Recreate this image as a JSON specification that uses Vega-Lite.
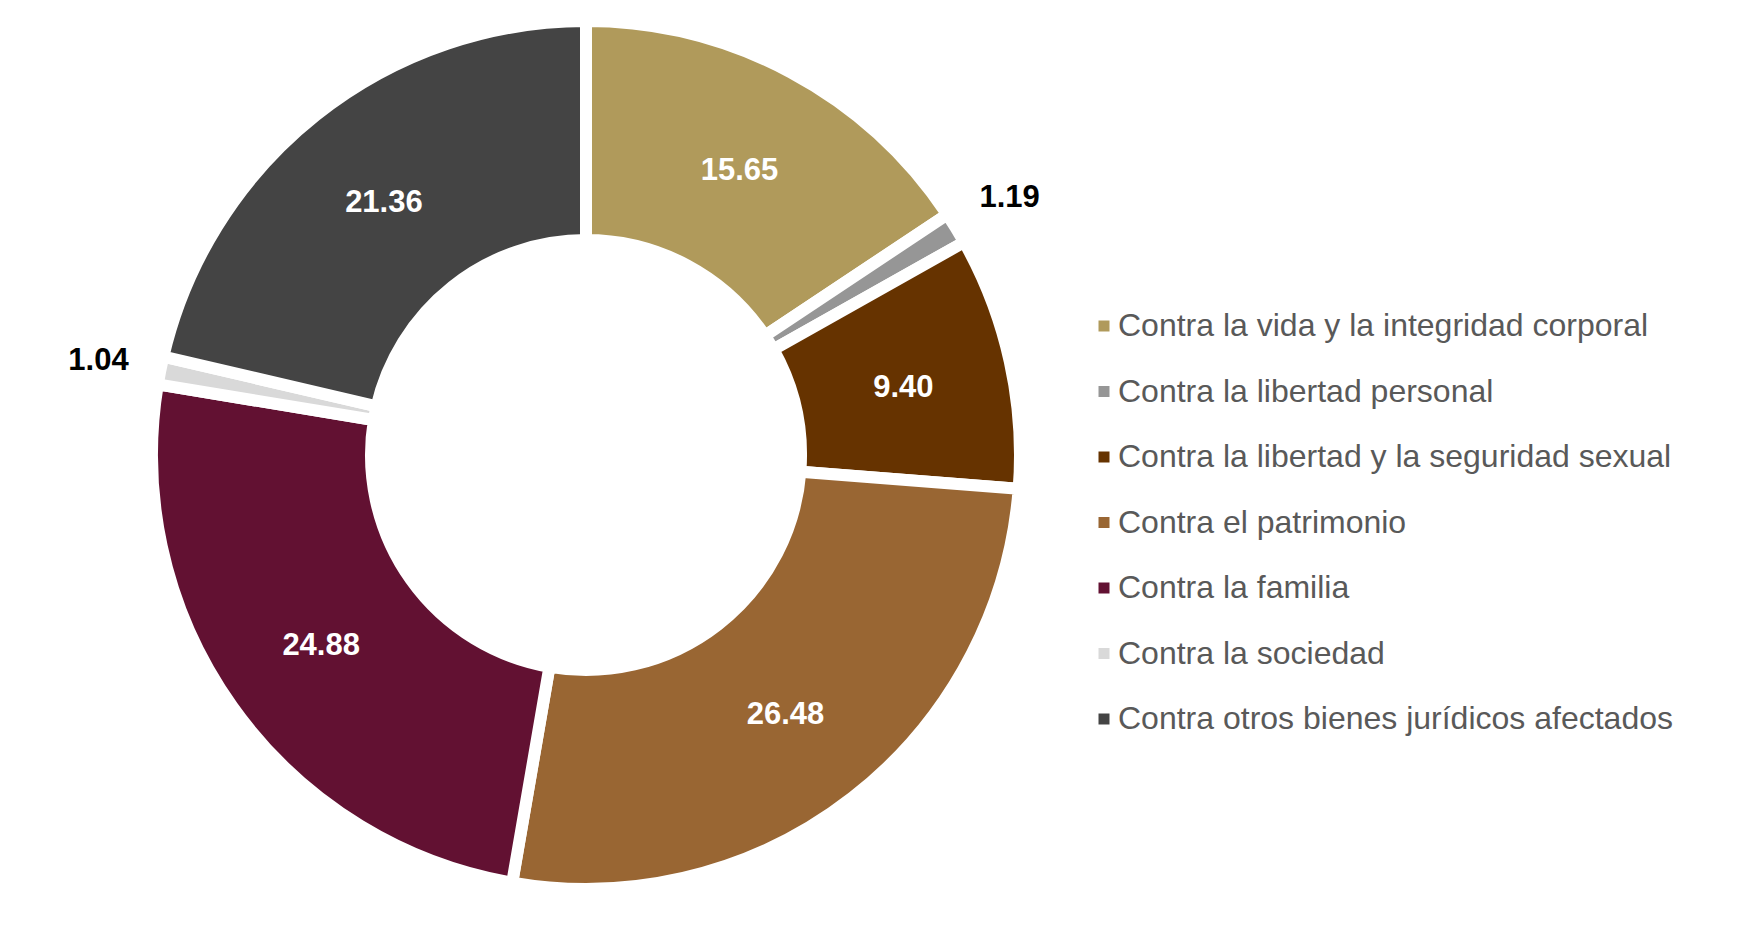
{
  "$schema": "https://vega.github.io/schema/vega-lite/v6.json",
  "width": 1152,
  "height": 890,
  "padding": {"left": 10, "top": 10, "right": 575, "bottom": 44},
  "autosize": {"type": "none"},
  "background": "white",
  "config": {"view": {"stroke": null}, "font": "Liberation Sans"},
  "data": {
    "values": [
      {"orden": 1, "categoria": "Contra la vida y la integridad corporal", "valor": 15.65},
      {"orden": 2, "categoria": "Contra la libertad personal", "valor": 1.19},
      {"orden": 3, "categoria": "Contra la libertad y la seguridad sexual", "valor": 9.40},
      {"orden": 4, "categoria": "Contra el patrimonio", "valor": 26.48},
      {"orden": 5, "categoria": "Contra la familia", "valor": 24.88},
      {"orden": 6, "categoria": "Contra la sociedad", "valor": 1.04},
      {"orden": 7, "categoria": "Contra otros bienes jurídicos afectados", "valor": 21.36}
    ]
  },
  "encoding": {
    "theta": {"field": "valor", "type": "quantitative", "stack": true},
    "order": {"field": "orden", "type": "quantitative", "sort": "ascending"}
  },
  "layer": [
    {
      "mark": {"type": "arc", "innerRadius": 215, "outerRadius": 434, "stroke": "white", "strokeWidth": 12},
      "encoding": {
        "color": {
          "field": "categoria",
          "type": "nominal",
          "scale": {
            "domain": [
              "Contra la vida y la integridad corporal",
              "Contra la libertad personal",
              "Contra la libertad y la seguridad sexual",
              "Contra el patrimonio",
              "Contra la familia",
              "Contra la sociedad",
              "Contra otros bienes jurídicos afectados"
            ],
            "range": ["#B09A5B", "#969696", "#663300", "#996633", "#621132", "#D9D9D9", "#444444"]
          },
          "legend": {
            "orient": "none",
            "legendX": 1078,
            "legendY": 300,
            "title": null,
            "symbolType": "square",
            "symbolSize": 121,
            "symbolStrokeWidth": 0,
            "labelFontSize": 32,
            "labelFont": "Liberation Sans",
            "labelColor": "#595959",
            "labelOffset": -2,
            "labelLimit": 0,
            "rowPadding": 33.5,
            "padding": 0
          }
        }
      }
    },
    {
      "mark": {"type": "text", "radius": 325, "dy": 3, "fontSize": 31, "fontWeight": "bold", "font": "Liberation Sans", "fill": "white"},
      "encoding": {
        "text": {"field": "valor", "type": "quantitative", "format": ".2f"},
        "opacity": {"condition": {"test": "datum.valor > 5", "value": 1}, "value": 0}
      }
    },
    {
      "mark": {"type": "text", "radius": 497, "dy": 3, "fontSize": 31, "fontWeight": "bold", "font": "Liberation Sans", "fill": "black"},
      "encoding": {
        "text": {"field": "valor", "type": "quantitative", "format": ".2f"},
        "opacity": {"condition": {"test": "datum.valor <= 5", "value": 1}, "value": 0}
      }
    }
  ]
}
